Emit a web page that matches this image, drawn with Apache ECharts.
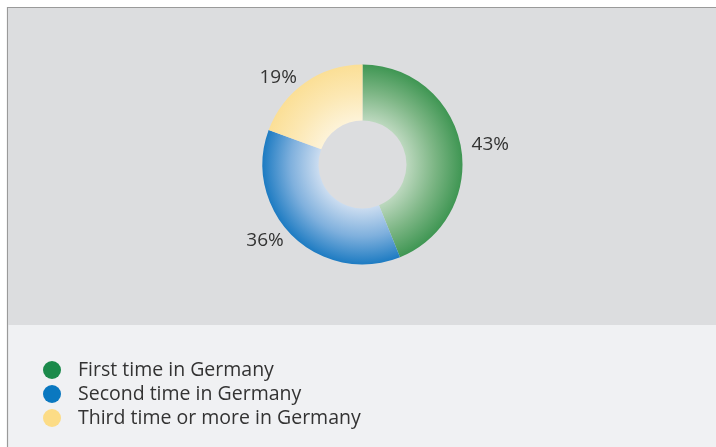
<!DOCTYPE html>
<html>
<head>
<meta charset="utf-8">
<style>
  html, body { margin: 0; padding: 0; background: #ffffff; }
  #chart { width: 716px; height: 447px; }
</style>
<script src="https://cdn.jsdelivr.net/npm/echarts@6/dist/echarts.min.js"></script>
</head>
<body>
<div id="chart"></div>
<script>
// Share of visitors by how often they have been to Germany
const categories = ['First time in Germany', 'Second time in Germany', 'Third time or more in Germany'];
const shares = [43, 36, 19];
const dotColors = ['#1b8a4b', '#0a78c0', '#fcdc86'];
// [inner, middle, outer] tones for each ring segment
const ringTones = [
  ['#bcd8be', '#7db685', '#3f9653'],
  ['#cadcf0', '#7fb0dd', '#1d7bc2'],
  ['#fdf3d8', '#fce8b4', '#fbdf96']
];

const cx = 362.5, cy = 164.5, rIn = 44, rOut = 100;

function ringFill(tones) {
  const a = rIn / rOut;
  return {
    type: 'radial', x: cx, y: cy, r: rOut, global: true,
    colorStops: [
      { offset: 0, color: tones[0] },
      { offset: a, color: tones[0] },
      { offset: (a + 1) / 2, color: tones[1] },
      { offset: 1, color: tones[2] }
    ]
  };
}

const chart = echarts.init(document.getElementById('chart'), null, { renderer: 'canvas' });
const font = '"Open Sans", "Noto Sans", sans-serif';

chart.setOption({
  animation: false,
  backgroundColor: '#ffffff',
  graphic: [
    { type: 'rect', z: -10, shape: { x: 7.5, y: 7.5, width: 720, height: 450 },
      style: { fill: '#f0f1f3', stroke: '#9a9a9a', lineWidth: 1.2 } },
    { type: 'rect', z: -9, shape: { x: 8, y: 8, width: 720, height: 317 },
      style: { fill: '#dcdddf' } }
  ],
  legend: {
    orient: 'vertical',
    left: 43,
    top: 360,
    padding: 0,
    icon: 'circle',
    itemWidth: 18,
    itemHeight: 18,
    itemGap: 4,
    selectedMode: false,
    textStyle: { fontFamily: font, fontSize: 19.5, lineHeight: 18, color: '#333333', padding: [0, 0, 0, 12] },
    data: categories.map((name, i) => ({ name, itemStyle: { color: dotColors[i] } }))
  },
  series: [{
    type: 'pie',
    center: [cx, cy],
    radius: [rIn, rOut],
    startAngle: 90,
    clockwise: true,
    avoidLabelOverlap: false,
    emphasis: { disabled: true },
    label: {
      show: true,
      position: 'outside',
      formatter: '{c}%',
      fontFamily: font,
      fontSize: 19,
      color: '#333333'
    },
    labelLine: { show: false, length: 6, length2: 0 },
    data: categories.map((name, i) => ({
      name,
      value: shares[i],
      itemStyle: { color: ringFill(ringTones[i]) }
    }))
  }]
});
</script>
</body>
</html>
